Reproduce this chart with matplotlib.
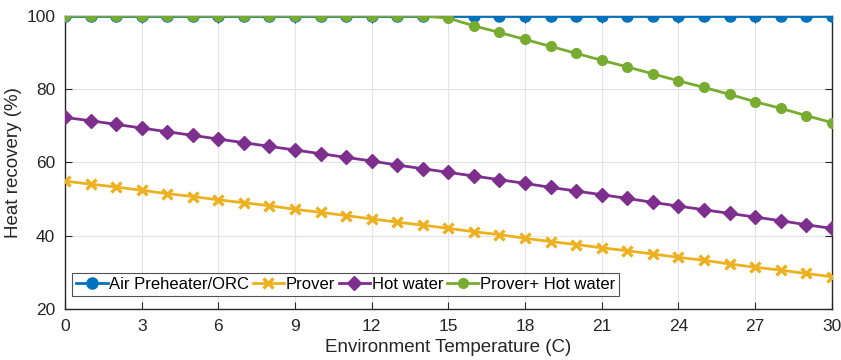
import matplotlib
matplotlib.use("Agg")
import matplotlib.pyplot as plt
import numpy as np

plt.rcParams["font.family"] = ["Liberation Sans", "DejaVu Sans"]

temps = np.arange(0, 31)

air_preheater = [100.0] * 31

prover = [54.9, 54.1, 53.3, 52.4, 51.5, 50.7, 49.8, 49.0, 48.2, 47.2,
          46.4, 45.5, 44.6, 43.7, 42.9, 42.0, 41.1, 40.3, 39.3, 38.4,
          37.6, 36.7, 35.9, 35.0, 34.1, 33.3, 32.3, 31.4, 30.6, 29.7, 28.8]

hot_water = [72.3, 71.4, 70.4, 69.4, 68.4, 67.4, 66.4, 65.4, 64.4, 63.4,
             62.4, 61.4, 60.4, 59.3, 58.3, 57.3, 56.3, 55.3, 54.3, 53.2,
             52.2, 51.2, 50.2, 49.1, 48.1, 47.1, 46.1, 45.1, 44.1, 43.0, 42.0]

prover_hot_water = [100.0] * 15 + [99.4, 97.3, 95.5, 93.6, 91.7, 89.8, 87.9,
                                   86.1, 84.2, 82.3, 80.5, 78.6, 76.6, 74.8,
                                   72.8, 70.9]

x_ticks = np.arange(0, 31, 3)
y_ticks = [20, 40, 60, 80, 100]

fig = plt.figure(figsize=(8.41, 3.6), dpi=100)
ax = fig.add_axes([0.0773, 0.1417, 0.9117, 0.8139])

ax.plot(temps, air_preheater, "-o", color="#0072BD", lw=2, ms=8,
        label="Air Preheater/ORC", zorder=3)
ax.plot(temps, prover, "-x", color="#EDB120", lw=2, ms=6.5, mew=2.4,
        label="Prover", zorder=3)
ax.plot(temps, hot_water, "-D", color="#7E2F8E", lw=2, ms=7.5,
        label="Hot water", zorder=3)
ax.plot(temps, prover_hot_water, "-o", color="#77AC30", lw=2, ms=7,
        label="Prover+ Hot water", zorder=4)

ax.set_xlim(0, 30)
ax.set_ylim(20, 100)
ax.set_xticks(x_ticks)
ax.set_yticks(y_ticks)
ax.grid(True, color="#e3e3e3", lw=0.8)
ax.set_axisbelow(True)
ax.tick_params(direction="in", length=5, labelsize=12.5, colors="#262626",
               right=True, top=True, pad=7)
for s in ax.spines.values():
    s.set_color("#262626")
    s.set_linewidth(1.0)

ax.set_xlabel("Environment Temperature (C)", fontsize=13.5, color="#262626", labelpad=4)
ax.set_ylabel("Heat recovery (%)", fontsize=13.5, color="#262626", labelpad=3)

leg = ax.legend(loc="lower left", ncol=4, fontsize=12, frameon=True,
                fancybox=False, edgecolor="#262626", handlelength=1.9,
                handletextpad=0.1, columnspacing=0.2, borderpad=0.25,
                borderaxespad=0.4, bbox_to_anchor=(0.0, 0.02))
leg.get_frame().set_linewidth(0.8)

fig.savefig("out.png", dpi=100, facecolor="white")
